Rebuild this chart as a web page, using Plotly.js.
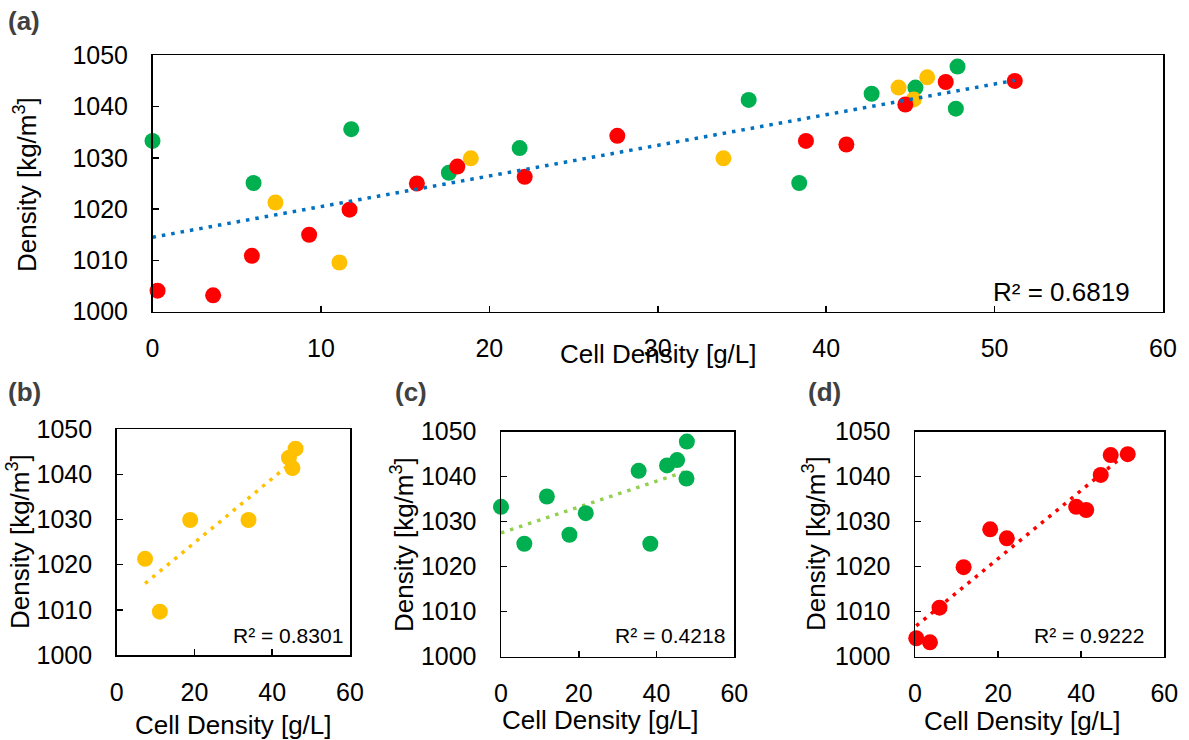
<!DOCTYPE html>
<html><head><meta charset="utf-8">
<script src="https://cdn.plot.ly/plotly-3.0.1.min.js"></script>
<style>html,body{margin:0;padding:0;background:#fff}#chart{width:1189px;height:740px}</style>
</head><body><div id="chart"></div>
<script>
// ---- data ----
const yellowX = [7.3, 11.1, 18.9, 33.9, 44.3, 45.2, 46.0];
const yellowY = [1021.3, 1009.6, 1029.9, 1029.9, 1043.7, 1041.4, 1045.7];
const greenX = [0.0, 6.0, 11.8, 17.6, 21.8, 35.4, 38.4, 42.7, 45.3, 47.8, 47.7];
const greenY = [1033.3, 1025.1, 1035.6, 1027.1, 1031.9, 1041.3, 1025.1, 1042.5, 1043.7, 1047.8, 1039.6];
const redX = [0.3, 3.6, 5.9, 11.7, 18.1, 22.1, 38.8, 41.2, 44.7, 47.1, 51.2];
const redY = [1004.1, 1003.2, 1010.9, 1019.9, 1028.3, 1026.3, 1033.3, 1032.6, 1040.4, 1044.8, 1045.0];
const extraRedX = [9.3, 15.7, 27.6];
const extraRedY = [1015.0, 1025.0, 1034.3];
const r2Labels = ['R² = 0.6819', 'R² = 0.8301', 'R² = 0.4218', 'R² = 0.9222'];
const panelLabels = ['(a)', '(b)', '(c)', '(d)'];
const xTitle = 'Cell Density [g/L]';
const yTitle = 'Density [kg/m<sup>3</sup>]';

// ---- helpers ----
const W = 1189, H = 740;
const px = v => v / W;
const py = v => 1 - v / H;
const FONT = 'Liberation Sans, Arial, sans-serif';
const YEL = '#FFC000', GRN = '#00B050', RED = '#FF0000';

function fit(xs, ys) {
  const n = xs.length;
  const mx = xs.reduce((a, b) => a + b, 0) / n;
  const my = ys.reduce((a, b) => a + b, 0) / n;
  let sxy = 0, sxx = 0;
  for (let i = 0; i < n; i++) { sxy += (xs[i] - mx) * (ys[i] - my); sxx += (xs[i] - mx) ** 2; }
  const b = sxy / sxx, a = my - b * mx;
  const x0 = Math.min(...xs), x1 = Math.max(...xs);
  return { x: [x0, x1], y: [a + b * x0, a + b * x1] };
}

function pts(xs, ys, color, ax) {
  return { x: xs, y: ys, type: 'scatter', mode: 'markers', xaxis: 'x' + ax, yaxis: 'y' + ax,
    marker: { color: color, size: 16, line: { width: 0 } }, cliponaxis: false, hoverinfo: 'skip' };
}
function trend(xs, ys, color, ax, dash) {
  const f = fit(xs, ys);
  return { x: f.x, y: f.y, type: 'scatter', mode: 'lines', xaxis: 'x' + ax, yaxis: 'y' + ax,
    line: { color: color, width: 3.5, dash: dash }, cliponaxis: false, hoverinfo: 'skip' };
}

const allX = yellowX.concat(greenX, redX, extraRedX);
const allY = yellowY.concat(greenY, redY, extraRedY);

const traces = [
  pts(greenX, greenY, GRN, ''),
  pts(yellowX, yellowY, YEL, ''),
  pts(redX, redY, RED, ''),
  pts(extraRedX, extraRedY, RED, ''),
  trend(allX, allY, '#0070C0', '', '3.5px,6px'),
  trend(yellowX, yellowY, YEL, '2', '3.5px,6px'),
  pts(yellowX, yellowY, YEL, '2'),
  trend(greenX, greenY, '#92D050', '3', '3.5px,6px'),
  pts(greenX, greenY, GRN, '3'),
  trend(redX, redY, RED, '4', '3.5px,6px'),
  pts(redX, redY, RED, '4'),
];

function xa(l, r, dtick, anchor) {
  return { domain: [px(l), px(r)], range: [0, 60], dtick: dtick, tick0: 0, anchor: anchor,
    ticks: 'inside', ticklen: 6, tickwidth: 1.5, tickcolor: '#000',
    showline: true, linecolor: '#000', linewidth: 1.5, mirror: true,
    showgrid: false, zeroline: false, ticklabelstandoff: 14,
    tickfont: { family: FONT, size: 25, color: '#000' }, fixedrange: true };
}
function ya(t, b, anchor) {
  return { domain: [py(b), py(t)], range: [1000, 1050], dtick: 10, anchor: anchor,
    ticks: 'inside', ticklen: 6, tickwidth: 1.5, tickcolor: '#000',
    showline: true, linecolor: '#000', linewidth: 1.5, mirror: true,
    showgrid: false, zeroline: false, ticklabelstandoff: 18,
    tickfont: { family: FONT, size: 25, color: '#000' }, fixedrange: true };
}

function ann(text, x, y, size, opts) {
  return Object.assign({ text: text, x: px(x), y: py(y), xref: 'paper', yref: 'paper',
    showarrow: false, xanchor: 'center', yanchor: 'middle',
    font: { family: FONT, size: size, color: '#000' } }, opts || {});
}
const LBL = { xanchor: 'left', font: { family: FONT, size: 26, color: '#404040' } };

const annotations = [
  // panel labels
  ann('<b>' + panelLabels[0] + '</b>', 6, 21, 26, LBL),
  ann('<b>' + panelLabels[1] + '</b>', 6, 392, 26, LBL),
  ann('<b>' + panelLabels[2] + '</b>', 393, 392, 26, LBL),
  ann('<b>' + panelLabels[3] + '</b>', 806, 392, 26, LBL),
  // axis titles
  ann(xTitle, 658, 354, 26),
  ann(yTitle, 25, 185, 26, { textangle: -90 }),
  ann(xTitle, 233, 725, 26),
  ann(yTitle, 18, 542, 26, { textangle: -90 }),
  ann(xTitle, 600, 720, 26),
  ann(yTitle, 402, 544, 26, { textangle: -90 }),
  ann(xTitle, 1022, 721, 26),
  ann(yTitle, 814, 544, 26, { textangle: -90 }),
  // R² labels
  ann(r2Labels[0], 991, 292, 26, { xanchor: 'left' }),
  ann(r2Labels[1], 231, 635, 21, { xanchor: 'left' }),
  ann(r2Labels[2], 613, 635, 21, { xanchor: 'left' }),
  ann(r2Labels[3], 1032, 635, 21, { xanchor: 'left' }),
];

const layout = {
  width: W, height: H, margin: { l: 0, r: 0, t: 0, b: 0 },
  paper_bgcolor: '#fff', plot_bgcolor: '#fff', showlegend: false, hovermode: false,
  font: { family: FONT, color: '#000' },
  xaxis: xa(152.5, 1163, 10, 'y'),  yaxis: ya(55.3, 311.7, 'x'),
  xaxis2: xa(116.7, 350, 20, 'y2'), yaxis2: ya(429.3, 655, 'x2'),
  xaxis3: xa(501, 734.3, 20, 'y3'), yaxis3: ya(431.7, 656.7, 'x3'),
  xaxis4: xa(915, 1164.3, 20, 'y4'), yaxis4: ya(431.7, 656.7, 'x4'),
  annotations: annotations,
};

Plotly.newPlot('chart', traces, layout, { displayModeBar: false, staticPlot: true });
</script></body></html>
